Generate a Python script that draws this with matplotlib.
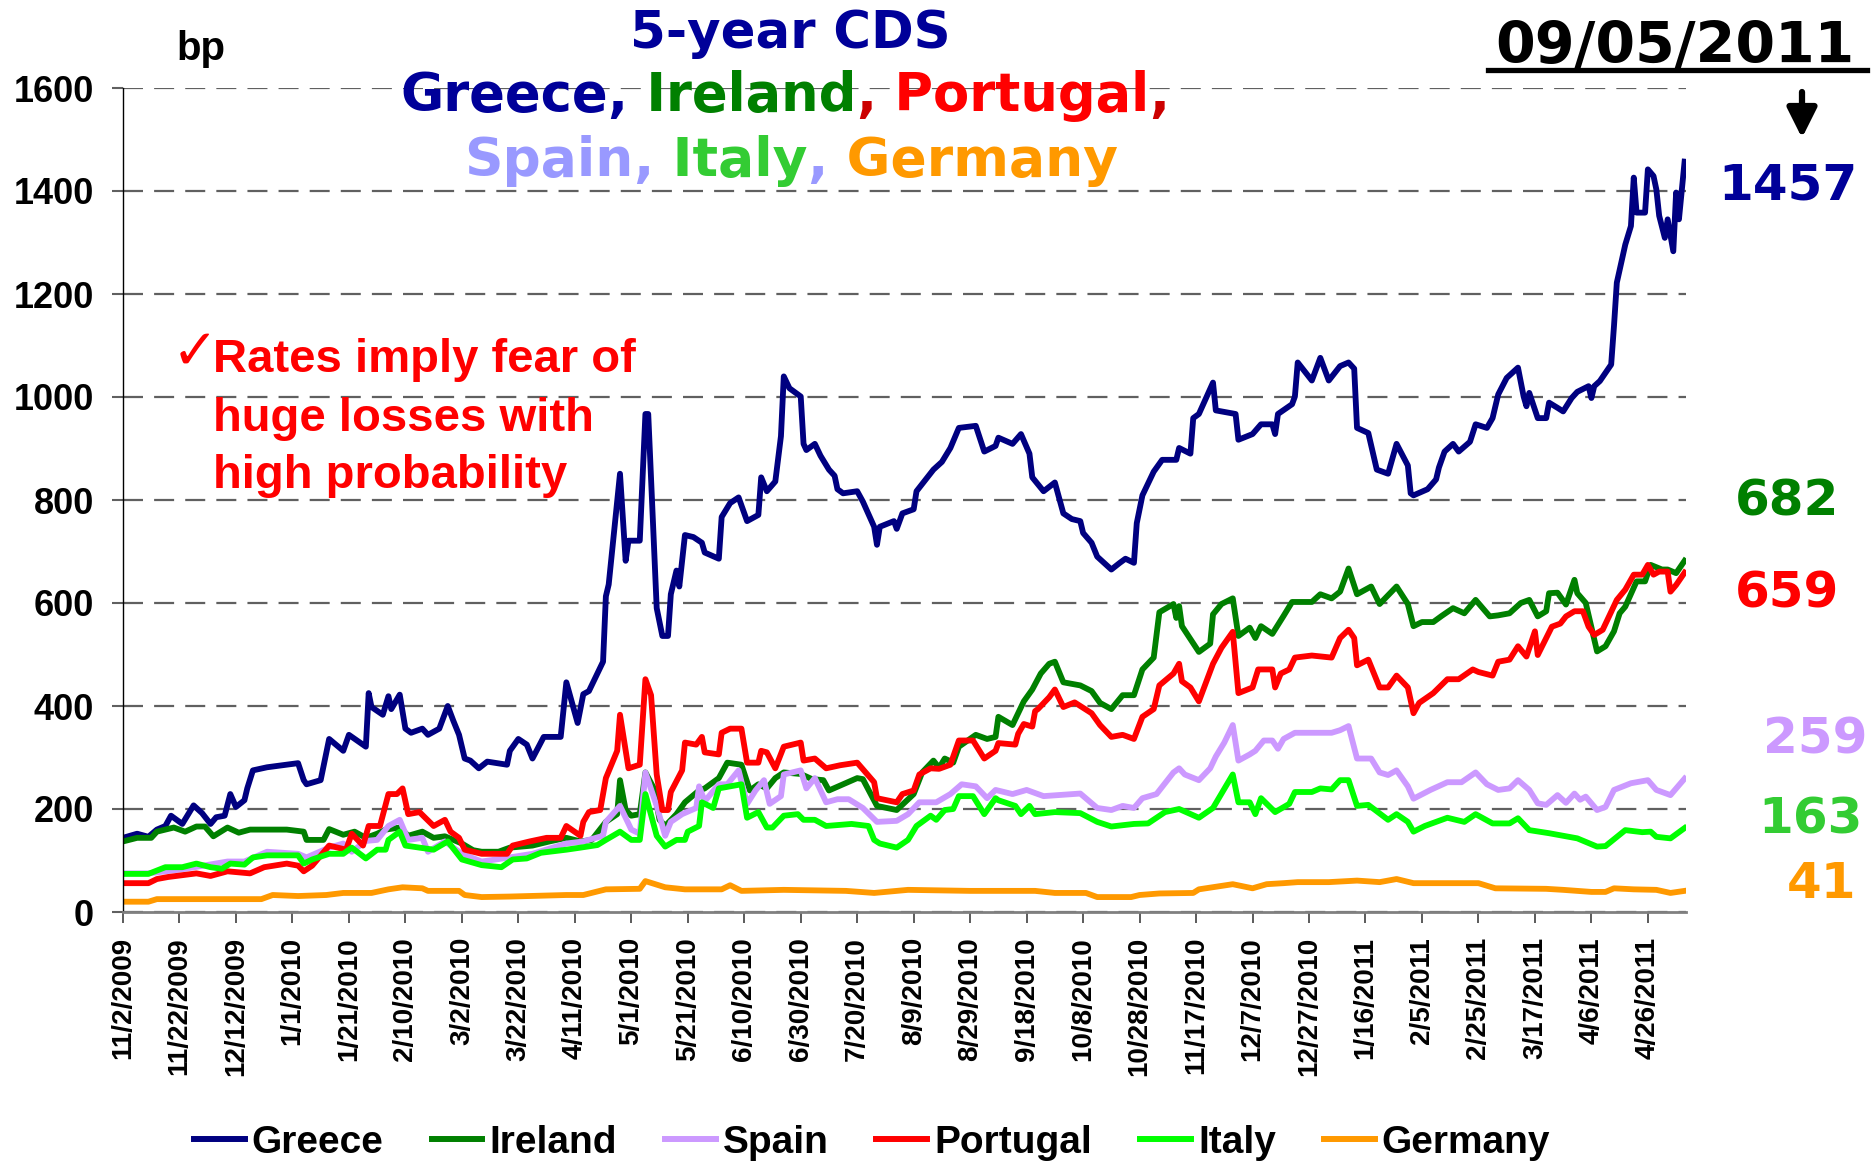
import numpy as np
import pandas as pd
import matplotlib
matplotlib.use('Agg')
import matplotlib.pyplot as plt
from matplotlib.lines import Line2D
from matplotlib.patches import ArrowStyle

# 5-year CDS spreads, (days after 11/2/2009, bp)
greece = [(0,144),(5,152),(9,146),(12,160),(15,167),(17,187),(21,171),(25,207),(28,192),(31,171),
          (33,184),(36,187),(38,229),(40,204),(43,217),(44,240),(46,275),(51,281),(58,286),(62,289),
          (64,256),(65,248),(70,256),(73,336),(78,313),(80,344),(86,321),(87,425),(88,398),(92,383),
          (94,419),(95,394),(98,422),(100,356),(102,348),(106,356),(108,344),(112,356),(115,400),(117,371),
          (119,344),(121,298),(123,294),(126,279),(129,292),(136,286),(137,313),(140,336),(143,325),(145,298),
          (149,340),(155,340),(157,446),(161,367),(163,423),(165,429),(170,486),(171,613),(172,636),(176,851),
          (178,682),(179,721),(183,721),(185,967),(186,967),(189,590),(191,536),(193,536),(194,617),(196,663),
          (197,632),(199,732),(202,728),(205,717),(206,698),(211,686),(212,767),(215,794),(218,805),(221,759),
          (225,771),(226,844),(228,817),(231,836),(233,924),(234,1040),(236,1017),(240,1001),(241,909),(242,897),
          (245,909),(247,886),(250,859),(252,847),(253,821),(255,813),(260,817),(262,797),(266,748),(267,713),
          (268,748),(273,759),(274,744),(276,774),(280,782),(281,817),(287,859),(290,874),(293,901),(296,940),
          (302,944),(305,894),(309,905),(310,921),(315,909),(318,928),(321,890),(322,844),(326,817),(330,834),
          (333,774),(336,763),(339,759),(340,736),(343,717),(345,690),(350,665),(353,678),(355,686),(358,678),
          (359,755),(361,809),(365,855),(368,878),(373,878),(374,901),(378,890),(379,959),(381,967),(386,1028),
          (387,974),(394,967),(395,917),(400,928),(403,947),(407,947),(408,928),(409,967),(414,986),(415,1001),
          (416,1067),(421,1032),(424,1076),(427,1032),(431,1060),(434,1067),(436,1055),(437,940),(441,930),(444,859),
          (448,851),(451,909),(455,867),(456,813),(457,809),(462,821),(465,840),(466,863),(468,894),(471,909),
          (473,894),(477,913),(479,947),(483,940),(485,959),(487,1005),(490,1037),(494,1057),(496,1001),(497,982),
          (498,1008),(501,959),(504,959),(505,989),(508,979),(510,972),(513,998),(515,1010),(519,1021),(520,998),
          (521,1021),(523,1031),(527,1063),(528,1138),(529,1222),(532,1296),(534,1332),(535,1426),(536,1358),(539,1358),
          (540,1442),(542,1429),(543,1403),(544,1352),(546,1309),(547,1345),(549,1283),(550,1397),(551,1345),(553,1457)]

ireland = [(0,137),(5,144),(10,144),(12,156),(18,164),(22,156),(26,166),(29,166),(32,147),(37,164),
           (41,154),(45,160),(51,160),(58,160),(64,156),(65,140),(71,140),(73,161),(78,150),(82,156),
           (86,144),(90,152),(93,160),(98,164),(101,148),(106,156),(110,144),(114,147),(120,133),(124,120),
           (127,117),(133,117),(137,125),(145,129),(151,137),(157,144),(162,137),(166,140),(171,175),(175,190),
           (176,256),(178,198),(180,187),(183,190),(185,271),(188,240),(190,179),(192,167),(196,190),(199,213),
           (204,236),(206,240),(211,260),(214,290),(219,286),(222,236),(225,248),(228,240),(231,260),(234,271),
           (240,268),(244,258),(248,256),(250,236),(255,248),(260,260),(262,258),(267,206),(274,198),(280,229),
           (283,271),(287,294),(289,280),(291,298),(294,290),(296,321),(302,344),(306,336),(309,340),(310,379),
           (315,363),(317,386),(319,409),(322,432),(325,463),(328,482),(330,486),(333,446),(339,440),(343,429),
           (346,406),(350,394),(354,421),(358,421),(361,471),(365,494),(367,582),(372,598),(373,571),(374,594),
           (375,555),(381,505),(385,521),(386,578),(389,598),(393,609),(395,536),(399,552),(401,532),(403,555),
           (407,540),(411,575),(414,602),(421,602),(424,617),(428,609),(431,622),(434,667),(437,617),(442,632),
           (445,598),(451,632),(455,598),(457,555),(460,563),(464,563),(467,575),(471,590),(475,580),(479,606),
           (484,574),(487,576),(491,580),(495,600),(498,606),(501,574),(504,584),(505,619),(508,620),(511,597),
           (514,645),(515,619),(518,600),(522,506),(525,516),(528,545),(530,580),(532,593),(536,642),(539,642),
           (541,674),(545,665),(547,665),(550,658),(553,682)]

spain = [(0,75),(9,75),(21,83),(37,98),(43,98),(51,117),(62,113),(65,106),(73,125),(78,133),
         (81,117),(86,138),(90,140),(94,167),(98,179),(101,140),(106,144),(108,117),(114,137),(120,113),
         (127,98),(137,106),(145,113),(157,133),(163,137),(170,148),(171,175),(176,206),(180,160),(183,152),
         (185,271),(189,206),(192,148),(194,175),(198,190),(203,202),(204,244),(206,215),(211,248),(214,248),
         (218,275),(221,210),(224,236),(227,256),(229,210),(233,225),(234,267),(240,275),(242,240),(245,260),
         (249,213),(253,219),(257,219),(262,202),(267,175),(274,177),(278,190),(282,213),(288,213),(293,229),
         (297,248),(302,244),(306,221),(309,237),(315,229),(320,237),(326,225),(339,230),(345,202),(350,198),
         (354,206),(358,202),(361,221),(366,229),(372,271),(374,279),(376,267),(381,256),(385,279),(387,302),
         (390,329),(393,363),(395,294),(399,306),(401,313),(404,333),(407,333),(409,317),(411,336),(415,348),
         (428,348),(431,353),(434,361),(437,298),(442,298),(445,271),(448,266),(451,275),(455,244),(457,220),
         (463,237),(469,252),(474,252),(479,271),(483,248),(487,237),(491,240),(494,256),(498,237),(501,211),
         (504,208),(508,227),(511,212),(514,230),(516,218),(518,224),(522,198),(525,204),(528,237),(534,250),
         (540,256),(543,237),(548,227),(553,259)]

portugal = [(0,56),(9,56),(12,64),(16,68),(26,75),(31,70),(37,79),(45,75),(50,87),(58,94),
            (62,90),(64,79),(67,90),(73,129),(79,121),(81,152),(85,129),(87,167),(91,167),(94,229),
            (97,229),(99,240),(101,190),(105,194),(110,167),(114,179),(116,156),(119,144),(121,121),(127,113),
            (136,113),(138,129),(144,137),(150,144),(155,144),(157,167),(162,148),(163,175),(165,194),(169,198),
            (171,260),(175,313),(176,383),(179,279),(183,286),(185,452),(187,421),(189,267),(191,198),(193,198),
            (194,233),(198,275),(199,329),(203,325),(205,340),(206,310),(211,306),(212,348),(215,356),(219,356),
            (221,290),(225,290),(226,313),(228,310),(231,279),(234,321),(240,329),(241,294),(245,298),(249,279),
            (254,285),(260,290),(266,252),(267,221),(274,213),(276,229),(280,236),(282,267),(286,279),(289,278),
            (293,286),(296,333),(301,333),(305,298),(309,313),(310,328),(316,325),(317,346),(319,365),(322,360),
            (323,390),(324,394),(328,417),(330,432),(333,398),(337,407),(343,386),(346,363),(350,340),(354,344),
            (358,336),(361,379),(365,394),(367,440),(372,463),(374,482),(375,448),(378,436),(381,409),(386,482),
            (389,513),(393,544),(395,425),(400,436),(402,471),(407,471),(408,436),(410,463),(413,471),(415,494),
            (421,498),(428,494),(431,532),(434,548),(436,532),(437,479),(441,490),(445,436),(448,436),(451,459),
            (455,436),(457,386),(459,406),(464,425),(469,452),(473,452),(478,471),(480,466),(485,459),(487,486),
            (491,490),(494,516),(497,496),(500,545),(501,499),(506,554),(509,560),(511,574),(514,584),(517,584),
            (519,554),(521,538),(524,548),(529,606),(532,626),(535,655),(538,655),(540,674),(542,655),(544,661),
            (547,661),(548,622),(550,635),(553,659)]

italy = [(0,74),(9,74),(15,87),(21,87),(26,94),(31,87),(35,84),(38,94),(43,92),(46,106),
         (51,110),(62,110),(64,94),(67,102),(73,113),(78,113),(81,125),(86,104),(90,121),(93,121),
         (94,140),(98,156),(100,129),(105,125),(110,121),(115,137),(120,102),(127,91),(134,87),(138,102),
         (143,104),(148,115),(157,121),(162,125),(168,130),(171,140),(176,156),(180,140),(183,140),(185,229),
         (189,148),(192,127),(196,140),(199,140),(200,156),(204,167),(205,213),(209,202),(211,240),(215,244),
         (219,248),(221,183),(225,194),(228,164),(230,164),(234,187),(239,190),(241,179),(245,179),(249,167),
         (258,171),(264,167),(266,140),(268,133),(274,125),(278,140),(281,167),(286,187),(288,179),(291,198),
         (294,200),(296,225),(301,225),(305,190),(309,221),(310,217),(316,206),(318,190),(321,206),(323,190),
         (330,194),(339,192),(345,175),(350,166),(358,171),(363,172),(369,194),(374,200),(381,183),(386,202),
         (393,267),(395,213),(399,213),(401,190),(403,221),(408,194),(413,210),(415,233),(421,233),(424,240),
         (428,238),(431,256),(434,256),(437,206),(441,208),(448,179),(451,190),(455,175),(457,156),(461,167),
         (469,183),(475,175),(479,190),(485,172),(491,172),(494,182),(498,159),(505,153),(515,143),(522,127),
         (525,128),(532,159),(538,155),(541,156),(543,146),(548,143),(553,163)]

germany = [(0,20),(9,20),(12,25),(30,25),(49,25),(53,33),(62,31),(72,33),(78,37),(88,37),
           (94,44),(99,48),(106,46),(108,41),(119,41),(121,33),(127,29),(137,30),(157,33),(163,33),
           (171,44),(183,45),(185,60),(192,48),(199,44),(212,44),(215,52),(219,41),(234,43),(256,41),
           (266,37),(278,43),(300,41),(323,41),(330,37),(341,37),(345,29),(357,29),(360,33),(367,36),
           (379,37),(381,44),(393,54),(400,46),(405,54),(411,56),(416,58),(427,58),(437,61),(445,58),
           (451,64),(457,56),(480,56),(486,46),(504,45),(510,43),(520,39),(525,39),(528,46),(535,44),
           (543,43),(548,37),(553,41)]

series_names = ['Greece', 'Ireland', 'Spain', 'Portugal', 'Italy', 'Germany']
series_data = [greece, ireland, spain, portugal, italy, germany]
series_colors = ['#000080', '#008000', '#CC99FF', '#FF0000', '#00FF00', '#FF9900']

last_values = ['1457', '682', '659', '259', '163', '41']

start = pd.Timestamp('2009-11-02')
tick_dates = pd.date_range(start, periods=28, freq='20D')
tick_labels = [f'{d.month}/{d.day}/{d.year}' for d in tick_dates]

plt.rcParams['font.family'] = ['Liberation Sans', 'DejaVu Sans']

W, H = 1875, 1166
fig = plt.figure(figsize=(W / 100, H / 100), dpi=100)


def fx(x):
    return x / W


def fy(y):
    return 1 - y / H


ax = fig.add_axes([fx(123), fy(912), (1686 - 123) / W, (912 - 88) / H])

for name, pts, col in zip(series_names, series_data, series_colors):
    days = np.array([p[0] for p in pts])
    vals = np.array([p[1] for p in pts])
    dates = start + pd.to_timedelta(days, unit='D')
    ax.plot(dates, vals, color=col, lw=4.2, label=name, solid_joinstyle='round')

ax.set_xlim(start, start + pd.Timedelta(days=553.5))
ax.set_ylim(0, 1600)
ax.set_yticks(np.arange(0, 1601, 200))
ax.set_yticklabels([str(v) for v in range(0, 1601, 200)], fontsize=26, fontweight='bold')
ax.set_xticks(tick_dates)
ax.set_xticklabels(tick_labels, rotation=90, fontsize=20, fontweight='bold')
ax.tick_params(axis='y', length=8, width=1.5, color='#606060', pad=13)
ax.tick_params(axis='x', length=8, width=1.2, color='#404040', pad=10)

ax.set_axisbelow(True)
ax.yaxis.grid(True, color='#606060', lw=1.6, linestyle=(0, (9, 5)))
for s in ['top', 'right']:
    ax.spines[s].set_visible(False)
ax.spines['left'].set_color('black')
ax.spines['left'].set_linewidth(1)
ax.spines['bottom'].set_color('#808080')
ax.spines['bottom'].set_linewidth(2)

# title in several colours
renderer = fig.canvas.get_renderer()


def colored_line(x, y, pieces, size):
    x = fx(x)
    for s, c in pieces:
        t = fig.text(x, fy(y), s, color=c, fontsize=size, fontweight='bold',
                     family='DejaVu Sans', va='baseline', ha='left')
        bb = t.get_window_extent(renderer=renderer)
        x = bb.x1 / W


fig.text(fx(790), fy(48), '5-year CDS', color='#000099', fontsize=37, fontweight='bold',
         family='DejaVu Sans', ha='center', va='baseline')
colored_line(400, 111, [('Greece', '#000099'), (',', '#000099'), (' Ireland', '#008000'),
                        (',', '#CC0000'), (' Portugal', '#FF0000'), (',', '#CC0000')], 38)
colored_line(464, 176, [('Spain', '#9999FF'), (',', '#9999FF'), (' Italy', '#33CC33'),
                        (',', '#9999FF'), (' Germany', '#FF9900')], 38.5)

fig.text(fx(176), fy(60), 'bp', fontsize=29, fontweight='bold', ha='left', va='baseline')

# note
fig.text(fx(172), fy(369), '\u2713', color='#FF0000', fontsize=40, fontweight='bold',
         family='DejaVu Sans', ha='left', va='baseline')
for txt, yb in zip(['Rates imply fear of', 'huge losses with', 'high probability'], [372, 431, 488]):
    fig.text(fx(213), fy(yb), txt, color='#FF0000', fontsize=34, fontweight='bold',
             ha='left', va='baseline')

# date and arrow
fig.text(fx(1675), fy(63), '09/05/2011', fontsize=41, fontweight='bold', family='DejaVu Sans',
         ha='center', va='baseline')
fig.add_artist(Line2D([fx(1488), fx(1867)], [fy(70), fy(70)], color='black', lw=3.8,
                      transform=fig.transFigure))
ax.annotate('', xy=(fx(1802), fy(138)), xytext=(fx(1802), fy(92)), xycoords='figure fraction',
            textcoords='figure fraction',
            arrowprops=dict(arrowstyle=ArrowStyle('-|>', head_length=0.4, head_width=0.2),
                            color='black', lw=4.5, mutation_scale=45, shrinkA=0, shrinkB=0))

# last values on the right
label_pos = [(1718, 200), (1735, 515), (1735, 608), (1763, 753), (1758, 833), (1787, 898)]
label_colors = ['#000099', '#008000', '#FF0000', '#CC99FF', '#33CC33', '#FF9900']
for txt, (x, y), c in zip(last_values, label_pos, label_colors):
    fig.text(fx(x), fy(y), txt, color=c, fontsize=36, fontweight='bold', family='DejaVu Sans',
             ha='left', va='baseline')

handles = [Line2D([], [], color=c, lw=4.3) for c in series_colors]
fig.legend(handles, series_names, loc='center', bbox_to_anchor=(fx(872), fy(1143)), ncol=6,
           frameon=False, prop=dict(size=28, weight='bold'), handlelength=1.31,
           handletextpad=0.18, columnspacing=1.23, borderaxespad=0, borderpad=0)

fig.savefig('out.png', dpi=100)
